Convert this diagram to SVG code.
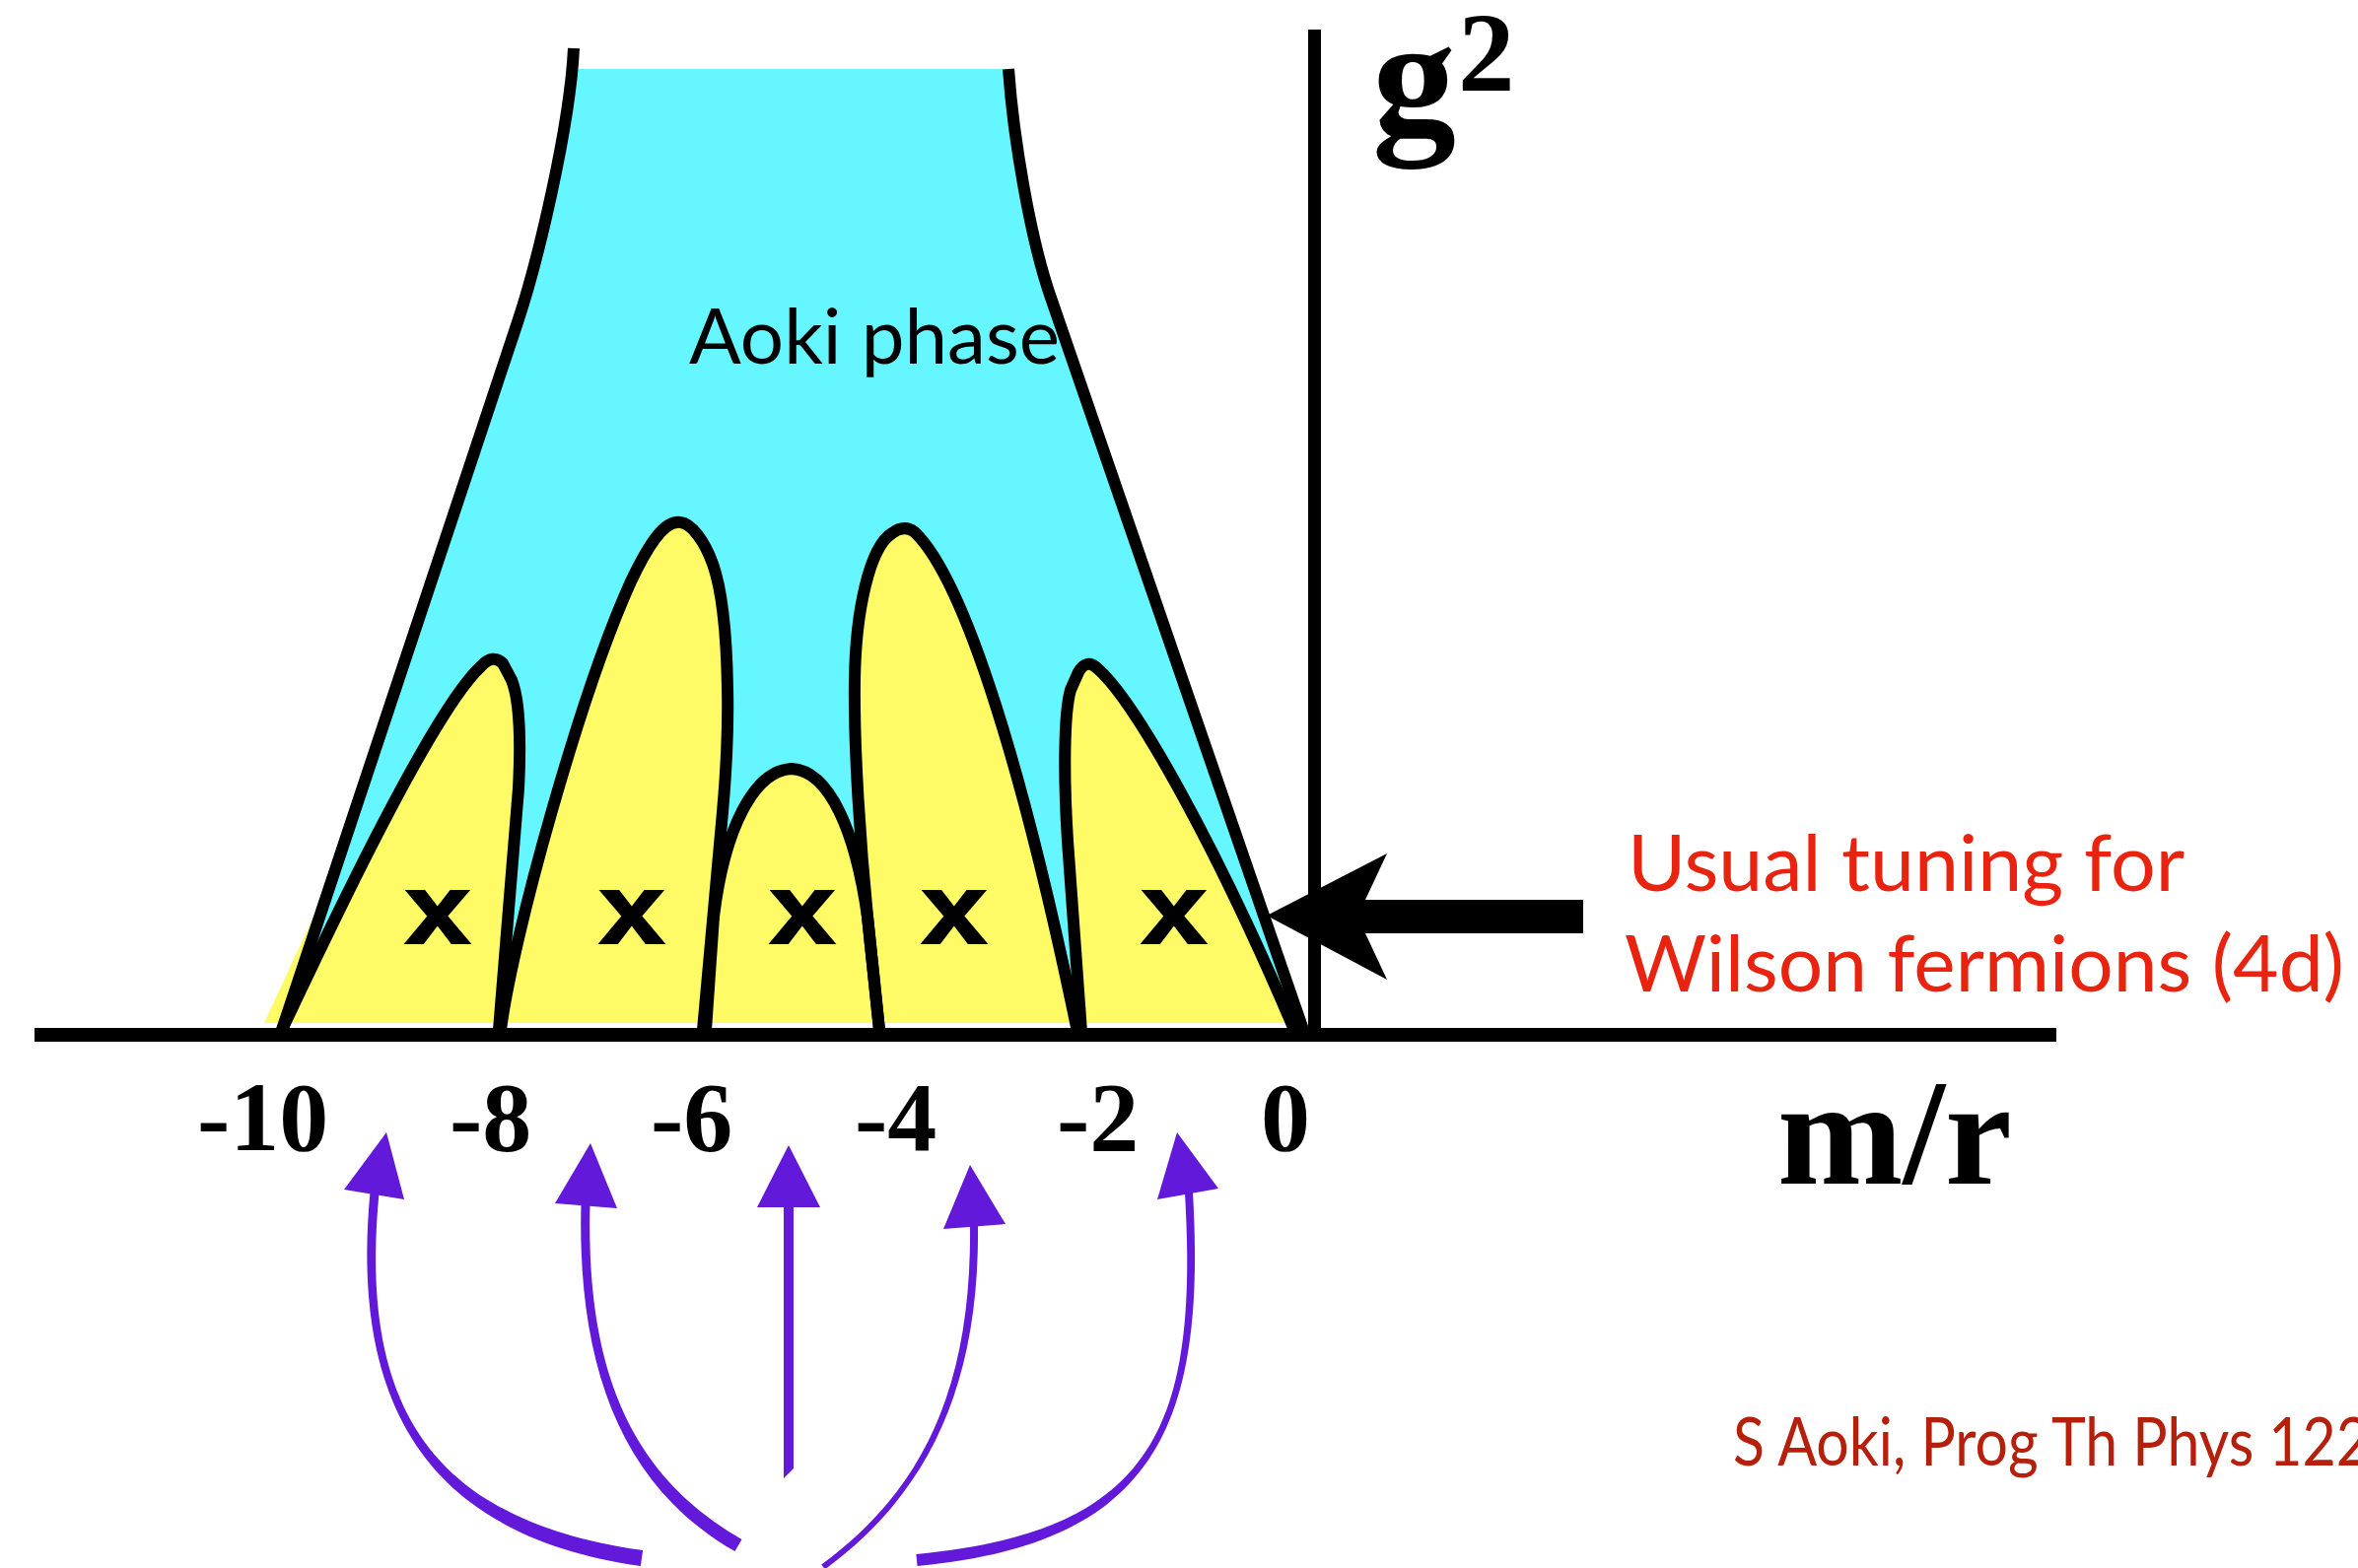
<svg xmlns="http://www.w3.org/2000/svg" width="2392" height="1591" viewBox="0 0 2392 1591">
<style>
.outline{fill:none;stroke:#000;stroke-width:12;stroke-linejoin:round;stroke-linecap:butt}
.lobe{fill:#FFFB66;stroke:none}
.cyan{fill:#66F6FF;stroke:none}
.tick{font-family:"Liberation Serif","Times New Roman",serif;font-weight:bold;font-size:100px;fill:#000}
.xm{font-family:"Liberation Sans",Arial,sans-serif;font-weight:bold;font-size:100px;fill:#000;stroke:#000;stroke-width:2}
.red{font-family:Lato,"Liberation Sans",sans-serif;font-size:79px;fill:#E8230F}
.arrow{fill:#6219D9;stroke:none}
</style>
<rect width="2392" height="1591" fill="#FFFFFF"/>

<g id="aoki-phase">
  <path class="cyan" d="M584,70 L1024,70 C1029,140 1045,242 1066,302 L1321,1040 L286,1040 L525,327 C545,267 578,130 580,70 Z"/>
  <polygon class="lobe" points="268,1038 318,930 330,930 295,1038"/>
</g>

<g id="lobe-fills">
  <path class="lobe" d="M286,1042 C340,930 440,720 488,676 Q500,663 510,673 L519,690 C528,712 528,760 526,800 L506,1042 Z"/>
  <path class="lobe" d="M508,1042 C520,950 590,700 640,590 C660,548 675,528 690,530 C702,531 715,550 723,572 C733,600 737,640 738,698 C739,740 736,790 733,824 L713,1042 Z"/>
  <path class="lobe" d="M716,1042 L724,930 C735,840 765,782 803,780 C842,782 868,845 880,930 L892,1042 Z"/>
  <path class="lobe" d="M892,1042 L880,930 C873,860 866,760 867,690 C868,620 882,555 905,541 Q917,532 928,540 C980,590 1040,790 1093,1045 Z"/>
  <path class="lobe" d="M1097,1045 L1083,853 C1079,790 1079,725 1086,700 L1094,682 Q1102,668 1113,678 C1150,710 1230,850 1313,1042 Z"/>
</g>
<rect x="250" y="1038" width="1080" height="6" fill="#FFFFFF"/>

<g id="phase-boundaries">
  <path id="left-boundary" class="outline" d="M582,49 C578,130 545,267 525,327 L286,1045"/>
  <path id="right-boundary" class="outline" d="M1023,70 C1028,140 1045,242 1066,302 L1322,1045"/>
  <path id="lobe-1" class="outline" d="M286,1045 C340,930 440,720 488,676 Q500,663 510,673 L519,690 C528,712 528,760 526,800 L506,1045"/>
  <path id="lobe-2" class="outline" d="M508,1045 C520,950 590,700 640,590 C660,548 675,528 690,530 C702,531 715,550 723,572 C733,600 737,640 738,698 C739,740 736,790 733,824 L713,1045"/>
  <path id="lobe-3" class="outline" d="M716,1045 L724,930 C735,840 765,782 803,780 C842,782 868,845 880,930 L892,1045"/>
  <path id="lobe-4" class="outline" d="M892,1045 L880,930 C873,860 866,760 867,690 C868,620 882,555 905,541 Q917,532 928,540 C980,590 1040,790 1093,1047"/>
  <path id="lobe-5" class="outline" d="M1097,1047 L1083,853 C1079,790 1079,725 1086,700 L1094,682 Q1102,668 1113,678 C1150,710 1230,850 1313,1045"/>
</g>

<g id="axes">
  <rect x="35" y="1043" width="2051" height="14" fill="#000"/>
  <rect x="1327" y="30" width="13" height="1020" fill="#000"/>
</g>

<g id="critical-points">
  <text class="xm" x="411" y="957" textLength="66" lengthAdjust="spacingAndGlyphs">x</text>
  <text class="xm" x="608" y="957" textLength="66" lengthAdjust="spacingAndGlyphs">x</text>
  <text class="xm" x="781" y="957" textLength="66" lengthAdjust="spacingAndGlyphs">x</text>
  <text class="xm" x="935" y="957" textLength="66" lengthAdjust="spacingAndGlyphs">x</text>
  <text class="xm" x="1158" y="957" textLength="66" lengthAdjust="spacingAndGlyphs">x</text>
</g>

<g id="labels">
  <text x="699" y="369" font-family="Lato,'Liberation Sans',sans-serif" font-size="78" fill="#000" textLength="376" lengthAdjust="spacingAndGlyphs">Aoki phase</text>
  <text x="1392" y="135" font-family="'Liberation Serif','Times New Roman',serif" font-weight="bold" font-size="170" fill="#000">g</text>
  <text x="1479" y="92" font-family="'Liberation Serif','Times New Roman',serif" font-weight="bold" font-size="115" fill="#000">2</text>
  <text x="1803" y="1201" font-family="'Liberation Serif','Times New Roman',serif" font-weight="bold" font-size="153" fill="#000">m/r</text>
  <text class="tick" x="200" y="1167">-10</text>
  <text class="tick" x="456" y="1167">-8</text>
  <text class="tick" x="660" y="1167">-6</text>
  <text class="tick" x="867" y="1167">-4</text>
  <text class="tick" x="1072" y="1167">-2</text>
  <text class="tick" x="1279" y="1167">0</text>
  <text class="red" x="1651" y="904" textLength="565" lengthAdjust="spacingAndGlyphs">Usual tuning for</text>
  <text class="red" x="1648" y="1006" textLength="730" lengthAdjust="spacingAndGlyphs">Wilson fermions (4d)</text>
  <text x="1758" y="1487" font-family="Lato,'Liberation Sans',sans-serif" font-size="67" fill="#B5200D" textLength="646" lengthAdjust="spacingAndGlyphs">S Aoki, Prog Th Phys 122</text>
</g>

<g id="connectors">
  <polygon id="tuning-arrow" fill="#000" points="1285,929 1407,866 1385,913 1606,913 1606,947 1385,947 1407,994"/>
  <g id="arrow-1">
    <path class="arrow" d="M375.5,1209.6 C355.5,1419.6 428.9,1557.9 649.9,1588.9 L652.1,1573.1 C431.1,1542.1 364.5,1420.4 384.5,1210.4 Z"/>
    <polygon class="arrow" points="392,1149 349,1207 410,1217"/>
  </g>
  <g id="arrow-2">
    <path class="arrow" d="M589.5,1221.9 C585.5,1379.9 626.5,1506.1 745.5,1574.1 L752.5,1561.9 C633.5,1493.9 594.5,1380.1 598.5,1222.1 Z"/>
    <polygon class="arrow" points="599,1160 563,1221 626,1226"/>
  </g>
  <g id="arrow-3">
    <path class="arrow" d="M795,1223 L805,1223 L805,1490 L795,1500 Z"/>
    <polygon class="arrow" points="800,1162 768,1225 832,1225"/>
  </g>
  <g id="arrow-4">
    <path class="arrow" d="M984,1243 C986,1420 928.2,1517.6 833.2,1587.6 L836.8,1592.4 C931.8,1522.4 994,1420 992,1243 Z"/>
    <polygon class="arrow" points="984,1182 957,1247 1020,1242"/>
  </g>
  <g id="arrow-5">
    <path class="arrow" d="M1202,1210.2 C1216,1450.2 1169.4,1554 929.4,1577 L930.6,1589 C1170.6,1566 1224,1449.8 1210,1209.8 Z"/>
    <polygon class="arrow" points="1194,1149 1174,1217 1236,1206"/>
  </g>
</g>
</svg>
